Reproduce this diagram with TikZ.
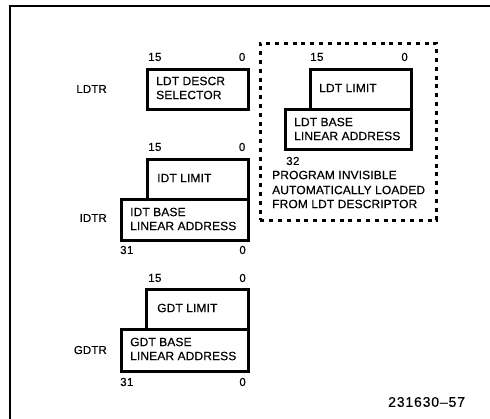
\documentclass[tikz,border=0pt]{standalone}
\usepackage{fontspec}
\setmainfont{Liberation Sans}[FakeBold=0.4]
\begin{document}
\begin{tikzpicture}[x=1pt,y=-1pt,
  reg/.style={draw,line width=2.5pt,minimum width=#1,anchor=north west,inner sep=0pt},
  txt/.style={anchor=west,inner sep=0pt,font=\fontsize{12}{14}\selectfont\addfontfeature{LetterSpace=1}},
  lbl/.style={anchor=east,inner sep=0pt,font=\fontsize{11.5}{14}\selectfont\addfontfeature{LetterSpace=1}},
  num/.style={inner sep=0pt,font=\fontsize{11.5}{14}\selectfont\addfontfeature{LetterSpace=4}},
  frame/.style={line width=2pt},
  dotbox/.style={line width=2.8pt,dash pattern=on 4pt off 4.8pt}]
\useasboundingbox (0,0) rectangle (490,418);
% frame
\coordinate (fa) at (10,420);
\coordinate (fb) at (10,6);
\coordinate (fc) at (492,6);
\draw[frame] (fa) -- (fb) -- (fc);
% LDTR
\node[reg=101pt,minimum height=40pt] (ldtsel) at (146,68) {};
\node[lbl] (ldtrl) at (107,89) {LDTR};
\node[num,anchor=west] (l15) at (148,57) {15};
\node[num,anchor=east] (l0) at (245.5,57) {0};
\node[txt] (ldt1) at (156,81) {LDT DESCR};
\node[txt] (ldt2) at (156,95) {SELECTOR};
% IDTR
\node[reg=101pt,minimum height=40pt] (idtlim) at (146,158) {};
\node[reg=127pt,minimum height=41pt] (idtbase) at (120,198) {};
\node[num,anchor=west] (i15) at (148,147) {15};
\node[num,anchor=east] (i0) at (245.5,147) {0};
\node[txt] (idtl) at (157,178) {IDT LIMIT};
\node[txt] (idtb1) at (130,212) {IDT BASE};
\node[txt] (idtb2) at (130,226) {LINEAR ADDRESS};
\node[lbl] (idtrl) at (107,218) {IDTR};
\node[num,anchor=west] (i31) at (120,250) {31};
\node[num,anchor=east] (i0b) at (246,250) {0};
% GDTR
\node[reg=102pt,minimum height=40pt] (gdtlim) at (145,288) {};
\node[reg=127pt,minimum height=42pt] (gdtbase) at (120,328) {};
\node[num,anchor=west] (g15) at (148,278) {15};
\node[num,anchor=east] (g0) at (246,278) {0};
\node[txt] (gdtl) at (157,308) {GDT LIMIT};
\node[txt] (gdtb1) at (130,342) {GDT BASE};
\node[txt] (gdtb2) at (130,356) {LINEAR ADDRESS};
\node[lbl] (gdtrl) at (107,350) {GDTR};
\node[num,anchor=west] (g31) at (120,382) {31};
\node[num,anchor=east] (g0b) at (246,382) {0};
% LDT cache (program invisible)
\node[draw,dotbox,minimum width=176pt,minimum height=177pt,anchor=north west,inner sep=0pt] (inv) at (259,42) {};
\node[reg=101pt,minimum height=40pt] (ldtlim) at (309,68) {};
\node[reg=126pt,minimum height=40pt] (ldtbase) at (284,108) {};
\node[num,anchor=west] (r15) at (310,57) {15};
\node[num,anchor=east] (r0) at (408,57) {0};
\node[txt] (ldtl) at (319,88) {LDT LIMIT};
\node[txt] (ldtb1) at (294,122) {LDT BASE};
\node[txt] (ldtb2) at (294,136) {LINEAR ADDRESS};
\node[num,anchor=west] (r32) at (286,161) {32};
\node[txt] (p1) at (272,175) {PROGRAM INVISIBLE};
\node[txt] (p2) at (272,190) {AUTOMATICALLY LOADED};
\node[txt] (p3) at (272,204) {FROM LDT DESCRIPTOR};
% figure number
\node[anchor=west,inner sep=0pt,font=\fontsize{14}{16}\selectfont\addfontfeature{LetterSpace=6}] (fig) at (388,402) {231630--57};
\end{tikzpicture}
\end{document}
